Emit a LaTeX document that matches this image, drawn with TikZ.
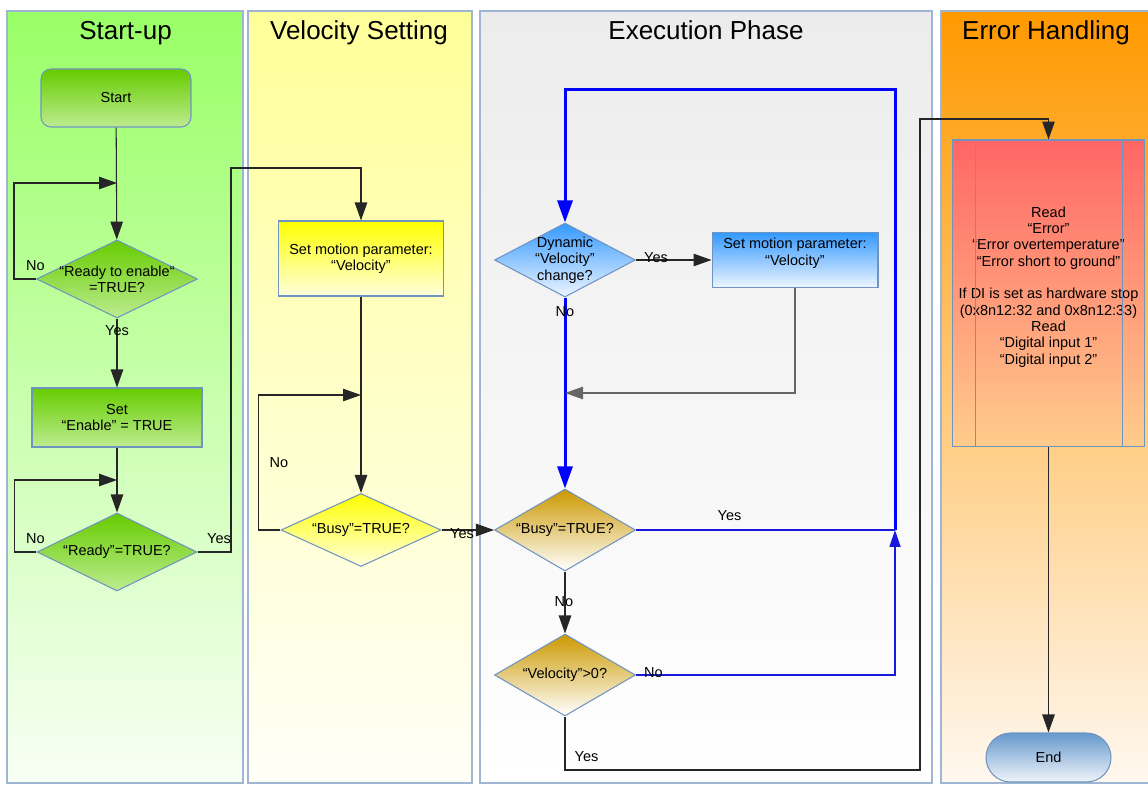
\documentclass[tikz,border=0pt]{standalone}
\usepackage{fontspec}
\setmainfont{Liberation Sans}
\usetikzlibrary{arrows.meta,positioning,calc,shapes.geometric}

\definecolor{laneborder}{HTML}{9EB6D4}
\definecolor{nodeborder}{HTML}{7094C0}
\definecolor{lanegreen}{HTML}{99FF66}
\definecolor{lanegreenbot}{HTML}{F8FFF4}
\definecolor{laneyellow}{HTML}{FFFF99}
\definecolor{laneyellowbot}{HTML}{FFFFF8}
\definecolor{lanegrey}{HTML}{ECECEC}
\definecolor{laneorange}{HTML}{FF9900}
\definecolor{laneorangebot}{HTML}{FFF8F0}
\definecolor{greentop}{HTML}{66CC00}
\definecolor{greenbot}{HTML}{BDEC90}
\definecolor{yellowtop}{HTML}{FFFF00}
\definecolor{yellowbot}{HTML}{FFFFDD}
\definecolor{bluetop}{HTML}{3399FF}
\definecolor{bluebot}{HTML}{EEF5FF}
\definecolor{goldtop}{HTML}{CC9900}
\definecolor{goldbot}{HTML}{FFFFFF}
\definecolor{redtop}{HTML}{FF6666}
\definecolor{redbot}{HTML}{FFCC8C}
\definecolor{endtop}{HTML}{6699CC}
\definecolor{endbot}{HTML}{F0F4FA}

\begin{document}
\begin{tikzpicture}[
        x=0.02cm, y=-0.02cm,
        font=\fontsize{8.25}{9.3}\selectfont,
        arrow/.style={-{Triangle[length=0.36cm,width=0.25cm]}, line width=0.6pt, draw=black!85},
        flow/.style={-{Triangle[length=0.44cm,width=0.3cm]}, line width=1.7pt, draw=blue},
        flowthin/.style={line width=1pt, draw=blue!85!black!90},
        lane/.style={draw=laneborder, line width=0.8pt},
        title/.style={font=\fontsize{14.8}{17}\selectfont, anchor=base},
        box/.style={draw=nodeborder, align=center, line width=0.6pt},
        decision/.style={draw=nodeborder, diamond, aspect=2, inner xsep=-3mm, inner ysep=0pt,
                         align=center, line width=0.6pt},
        answer/.style={inner sep=0pt}
    ]
        \clip (0,0) rectangle (1148,786);
        \fill[white] (0,0) rectangle (1148,786);

        % lanes
        \draw[lane, top color=lanegreen, bottom color=lanegreenbot] (7,11) rectangle (243,783);
        \draw[lane, top color=laneyellow, bottom color=laneyellowbot] (248,11) rectangle (472,783);
        \draw[lane, top color=lanegrey, bottom color=white] (480,11) rectangle (932,783);
        \draw[lane, top color=laneorange, bottom color=laneorangebot] (941,11) rectangle (1152,783);

        \node[title] (tstart) at (125.5,40) {Start-up};
        \node[title] (tvel) at (359,40) {Velocity Setting};
        \node[title] (texec) at (706,40) {Execution Phase};
        \node[title] (terr) at (1046,40) {Error Handling};

        % start-up
        \node[box, rounded corners=0.2cm, minimum width=3cm, minimum height=1.16cm,
              top color=greentop, bottom color=greenbot] (start) at (116,98) {Start};
        \node[decision, minimum width=3.22cm, minimum height=1.56cm,
              top color=greentop, bottom color=greenbot] (ready1) at (117,279) {“Ready to enable“\\=TRUE?};
        \node[box, minimum width=3.4cm, minimum height=1.18cm,
              top color=greentop, bottom color=greenbot] (setenable) at (117,417.5) {Set\\“Enable” = TRUE};
        \node[decision, minimum width=3.2cm, minimum height=1.56cm,
              top color=greentop, bottom color=greenbot] (ready2) at (117,552) {“Ready”=TRUE?};

        % velocity setting
        \node[box, minimum width=3.3cm, minimum height=1.5cm,
              top color=yellowtop, bottom color=yellowbot] (setvel) at (361,258.5) {Set motion parameter:\\“Velocity”};
        \node[decision, minimum width=3.2cm, minimum height=1.46cm,
              top color=yellowtop, bottom color=yellowbot] (busy1) at (361,530) {“Busy”=TRUE?};

        % execution phase
        \node[decision, minimum width=2.82cm, minimum height=1.48cm,
              top color=bluetop, bottom color=bluebot] (dynamic) at (565,260) {Dynamic\\“Velocity”\\change?};
        \node[box, minimum width=3.32cm, minimum height=1cm,
              top color=bluetop, bottom color=bluebot] (setvel2) at (795,260) {Set motion parameter:\\“Velocity”\\\mbox{}};
        \node[decision, minimum width=2.82cm, minimum height=1.64cm,
              top color=goldtop, bottom color=goldbot] (busy2) at (565,530) {“Busy”=TRUE?};
        \node[decision, minimum width=2.82cm, minimum height=1.64cm,
              top color=goldtop, bottom color=goldbot] (velpos) at (565,675) {“Velocity”>0?};

        % error handling
        \node[box, minimum width=3.82cm, minimum height=6.14cm,
              top color=redtop, bottom color=redbot] (errbox) at (1048.5,293.5)
              {Read\\“Error”\\“Error overtemperature”\\“Error short to ground”\\\mbox{}\\
               If DI is set as hardware stop\\(0x8n12:32 and 0x8n12:33)\\Read\\
               “Digital input 1”\\“Digital input 2”\\\mbox{}};
        \draw[nodeborder, line width=0.6pt] ($(errbox.north west)+(23,0)$) -- ($(errbox.south west)+(23,0)$);
        \draw[nodeborder, line width=0.6pt] ($(errbox.north east)+(-22,0)$) -- ($(errbox.south east)+(-22,0)$);
        \node[box, rounded corners=0.49cm, minimum width=2.5cm, minimum height=0.98cm,
              top color=endtop, bottom color=endbot] (finish) at (1048.5,757.5) {End};

        \coordinate (j1) at (117,183);
        \coordinate (j2) at (117,480);
        \coordinate (c1) at (231,168);
        \coordinate (j3) at (361,395);
        \coordinate (j4) at (895,530);
        \coordinate (j5) at (565,393);
        \coordinate (c3) at (565,90);
        \coordinate (c4) at (920,770);
        \coordinate (c5) at (920,119);

        \draw[arrow] (start) -- (ready1);
        \draw[arrow] (ready1.west) -- ++(-22,0) |- (j1);
        \draw[arrow] (ready1) -- (setenable);
        \draw[arrow] (setenable) -- (ready2);
        \draw[arrow] (ready2.west) -- ++(-22,0) |- (j2);
        \draw[arrow] (ready2.east) -| (c1) -| (setvel);

        \draw[arrow] (setvel) -- (busy1);
        \draw[arrow] (busy1.west) -- ++(-22,0) |- (j3);
        \draw[arrow] (busy1) -- (busy2);

        \draw[flow] (j4) |- (c3) -- (dynamic);
        \draw[flow] (dynamic) -- (busy2);
        \draw[flowthin] (busy2) -- (j4);
        \draw[flowthin, -{Triangle[length=0.34cm,width=0.22cm]}] (velpos) -| (j4);
        \draw[arrow] (dynamic) -- (setvel2);
        \draw[arrow, draw=black!60] (setvel2) |- (j5);
        \draw[arrow] (busy2) -- (velpos);
        \draw[arrow] (velpos) |- (c4) -- (c5) -| (errbox);
        \draw[arrow] (errbox) -- (finish);

        \node[answer] (no1) at (35.5,265.5) {No};
        \node[answer] (yes1) at (117,331) {Yes};
        \node[answer] (no2) at (35.5,539) {No};
        \node[answer] (yes2) at (219,539) {Yes};
        \node[answer] (no3) at (279,463) {No};
        \node[answer] (yes3) at (462,533.5) {Yes};
        \node[answer] (yes4) at (656,257.5) {Yes};
        \node[answer] (no4) at (565,312) {No};
        \node[answer] (yes5) at (729.5,515.5) {Yes};
        \node[answer] (no5) at (564,602) {No};
        \node[answer] (no6) at (653.5,672.5) {No};
        \node[answer] (yes6) at (586.5,757) {Yes};
    \end{tikzpicture}
\end{document}
